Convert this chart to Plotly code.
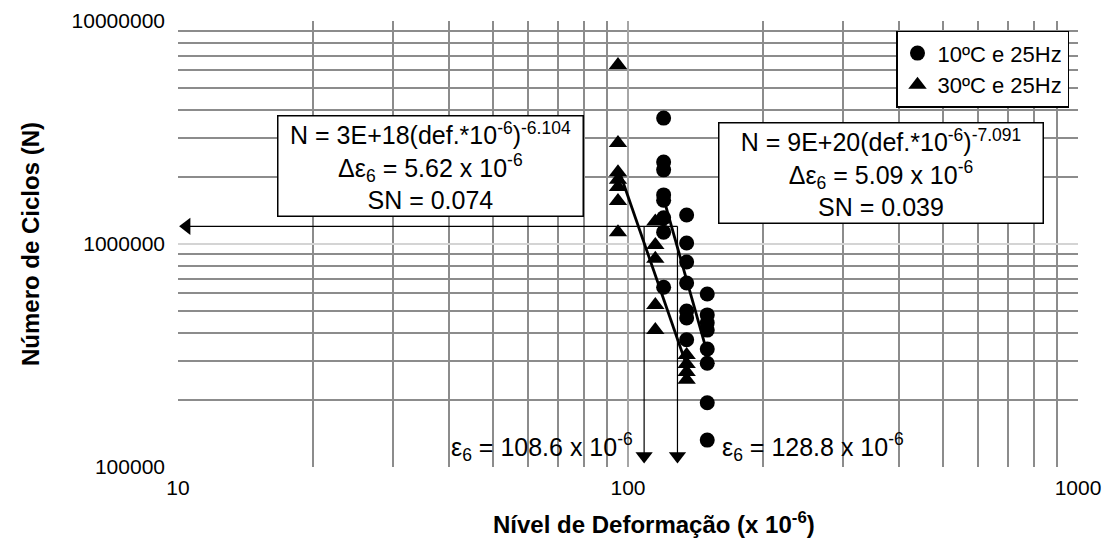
import numpy as np
import plotly.graph_objects as go

# ---- data ----
x_10C = [120]*8 + [135]*7 + [150]*8
N_10C = [3.67e6, 2.33e6, 2.15e6, 1.66e6, 1.57e6, 1.31e6, 1.13e6, 6.4e5,
         1.35e6, 1.01e6, 8.3e5, 6.68e5, 5.01e5, 4.66e5, 3.72e5,
         5.97e5, 4.81e5, 4.43e5, 4.11e5, 3.38e5, 2.92e5, 1.94e5, 1.32e5]

x_30C = [95]*7 + [115]*5 + [135]*4
N_30C = [6.35e6, 2.84e6, 2.10e6, 1.94e6, 1.80e6, 1.56e6, 1.13e6,
         1.26e6, 9.9e5, 8.58e5, 5.33e5, 4.11e5,
         3.18e5, 2.90e5, 2.67e5, 2.46e5]

series_names = ["10ºC e 25Hz", "30ºC e 25Hz"]

eps6_30C = 108.6
eps6_10C = 128.8
arrow_N = 1.2e6
arrow_tip_N = 1.12e5
arrow_left_x = 10.45

x_tickvals = [10, 100, 1000]
x_ticktext = ["10", "100", "1000"]
y_tickvals = [1e5, 1e6, 1e7]
y_ticktext = ["100000", "1000000", "10000000"]

eq_30C = "N = 3E+18(def.*10<sup>-6</sup>)<sup>-6.104</sup><br>Δε<sub>6</sub> = 5.62 x 10<sup>-6</sup><br>SN = 0.074"
eq_10C = "N = 9E+20(def.*10<sup>-6</sup>)<sup>-7.091</sup><br>Δε<sub>6</sub> = 5.09 x 10<sup>-6</sup><br>SN = 0.039"
lab_30C = "ε<sub>6</sub> = 108.6 x 10<sup>-6</sup>"
lab_10C = "ε<sub>6</sub> = 128.8 x 10<sup>-6</sup>"

FONT = "Arial, Liberation Sans, sans-serif"

fig = go.Figure()

def trend(xs, ns):
    lx = np.log10(xs); ly = np.log10(ns)
    b, a = np.polyfit(lx, ly, 1)
    xx = np.array([min(xs), max(xs)], dtype=float)
    return xx, 10 ** (a + b * np.log10(xx))

fig.add_trace(go.Scatter(x=x_10C, y=N_10C, mode="markers", name=series_names[0],
                         marker=dict(symbol="circle", size=15, color="black")))
fig.add_trace(go.Scatter(x=x_30C, y=N_30C, mode="markers", name=series_names[1],
                         marker=dict(symbol="triangle-up", size=16, color="black")))

for xs, ns in [(x_10C, N_10C), (x_30C, N_30C)]:
    tx, ty = trend(xs, ns)
    fig.add_trace(go.Scatter(x=tx, y=ty, mode="lines", showlegend=False,
                             line=dict(color="black", width=2.8), hoverinfo="skip"))

# arrows
fig.add_trace(go.Scatter(x=[arrow_left_x, eps6_10C], y=[arrow_N, arrow_N], mode="lines",
                         showlegend=False, line=dict(color="black", width=1.2)))
for e in [eps6_30C, eps6_10C]:
    fig.add_trace(go.Scatter(x=[e, e], y=[arrow_N, arrow_tip_N], mode="lines",
                             showlegend=False, line=dict(color="black", width=1.2)))
fig.add_trace(go.Scatter(x=[eps6_30C, eps6_10C], y=[arrow_tip_N, arrow_tip_N], mode="markers",
                         showlegend=False, cliponaxis=False,
                         marker=dict(symbol="triangle-down", size=15, color="black")))
fig.add_trace(go.Scatter(x=[arrow_left_x], y=[arrow_N], mode="markers",
                         showlegend=False, cliponaxis=False,
                         marker=dict(symbol="triangle-left", size=15, color="black")))

BOX_FONT = dict(size=25, color="black", family=FONT)
annots = [
    dict(text=eq_30C, x=0.28, y=0.676, xref="paper", yref="paper", xanchor="center", yanchor="middle",
         showarrow=False, bgcolor="white", bordercolor="black", borderwidth=1.5, borderpad=1,
         width=302, height=97, align="center", font=BOX_FONT),
    dict(text=eq_10C, x=0.781, y=0.659, xref="paper", yref="paper", xanchor="center", yanchor="middle",
         showarrow=False, bgcolor="white", bordercolor="black", borderwidth=1.5, borderpad=1,
         width=321, height=97, align="center", font=BOX_FONT),
    dict(text=lab_30C, x=0.508, y=0.045, xref="paper", yref="paper", xanchor="right", yanchor="middle",
         showarrow=False, font=BOX_FONT),
    dict(text=lab_10C, x=0.602, y=0.045, xref="paper", yref="paper", xanchor="left", yanchor="middle",
         showarrow=False, font=BOX_FONT),
    dict(text="<b>Nível de Deformação (x 10<sup>-6</sup>)</b>", x=0.529, y=-0.1256, xref="paper", yref="paper",
         xanchor="center", yanchor="middle", showarrow=False,
         font=dict(size=24, color="black", family=FONT)),
    dict(text="<b>Número de Ciclos (N)</b>", x=-0.1644, y=0.5, xref="paper", yref="paper",
         xanchor="center", yanchor="middle", textangle=-90, showarrow=False,
         font=dict(size=24, color="black", family=FONT)),
]

minor_x = [d * 10 ** e for e in (1, 2) for d in range(2, 10)]
minor_y = [d * 10 ** e for e in (5, 6) for d in range(2, 10)]

fig.update_layout(
    width=1094, height=537,
    margin=dict(l=170, r=24, t=13, b=78, autoexpand=False),
    paper_bgcolor="white", plot_bgcolor="white",
    font=dict(family=FONT, color="black", size=21),
    annotations=annots,
    legend=dict(x=0.99, y=0.978, xanchor="right", yanchor="top",
                bgcolor="white", bordercolor="black", borderwidth=1.5,
                font=dict(size=22, color="black", family=FONT),
                itemwidth=30),
    xaxis=dict(type="log", range=[1, 3], tickmode="array", tickvals=x_tickvals, ticktext=x_ticktext,
               showgrid=True, gridcolor="#a6a6a6", gridwidth=2, zeroline=False, showline=False,
               tickfont=dict(size=21), ticks="", ticklabelstandoff=6, automargin=False,
               minor=dict(tickmode="array", tickvals=minor_x, showgrid=True,
                          gridcolor="#8c8c8c", gridwidth=1.5, ticks="")),
    yaxis=dict(type="log", range=[5, 7], tickmode="array", tickvals=y_tickvals, ticktext=y_ticktext,
               showgrid=True, gridcolor="#d4d4d4", gridwidth=2, zeroline=False, showline=False,
               tickfont=dict(size=21), ticks="", ticklabelstandoff=12, automargin=False,
               minor=dict(tickmode="array", tickvals=minor_y, showgrid=True,
                          gridcolor="#8c8c8c", gridwidth=1.5, ticks="")),
)

fig.write_html("out.html")
